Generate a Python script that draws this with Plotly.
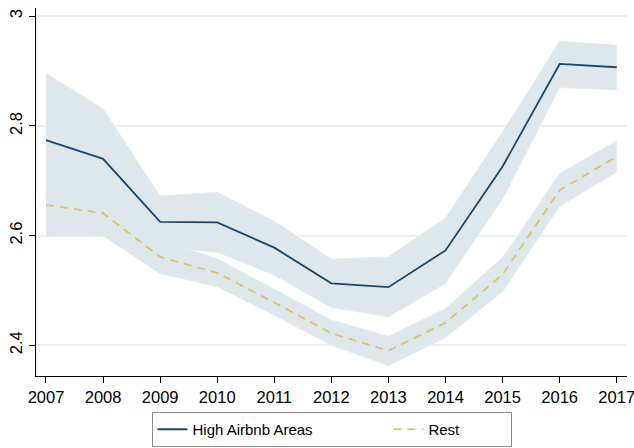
import plotly.graph_objects as go

years = list(range(2007, 2018))

high = [2.774, 2.740, 2.625, 2.624, 2.578, 2.513, 2.506, 2.573, 2.726, 2.913, 2.907]
high_upper = [2.896, 2.831, 2.672, 2.679, 2.626, 2.557, 2.561, 2.632, 2.789, 2.954, 2.947]
high_lower = [2.652, 2.649, 2.578, 2.570, 2.528, 2.469, 2.452, 2.513, 2.667, 2.870, 2.866]

rest = [2.656, 2.641, 2.561, 2.532, 2.478, 2.422, 2.390, 2.441, 2.529, 2.683, 2.744]
rest_upper = [2.714, 2.682, 2.592, 2.558, 2.502, 2.446, 2.416, 2.467, 2.560, 2.713, 2.773]
rest_lower = [2.598, 2.600, 2.531, 2.507, 2.455, 2.400, 2.363, 2.414, 2.498, 2.654, 2.716]

band_fill = "#dde7ec"
band_edge = "#e4ecf0"
navy = "#1a476f"
gold = "#e3c565"

fig = go.Figure()


def add_band(upper, lower):
    fig.add_trace(go.Scatter(x=years, y=upper, mode="lines",
                             line=dict(color=band_edge, width=1),
                             showlegend=False, hoverinfo="skip"))
    fig.add_trace(go.Scatter(x=years, y=lower, mode="lines",
                             line=dict(color=band_edge, width=1),
                             fill="tonexty", fillcolor=band_fill,
                             showlegend=False, hoverinfo="skip"))


add_band(high_upper, high_lower)
add_band(rest_upper, rest_lower)

pad = "\u00a0"
fig.add_trace(go.Scatter(x=years, y=high, mode="lines",
                         name="High Airbnb Areas" + pad * 17,
                         line=dict(color=navy, width=1.8)))
fig.add_trace(go.Scatter(x=years, y=rest, mode="lines", name="Rest" + pad * 11,
                         line=dict(color=gold, width=1.8, dash="8px,6px")))

font = dict(family="Liberation Sans, Arial, sans-serif", size=16.5, color="black")
legend_font = dict(family="Liberation Sans, Arial, sans-serif", size=15, color="black")

fig.update_layout(
    width=634, height=448,
    margin=dict(l=36, r=7, t=8, b=72),
    paper_bgcolor="white", plot_bgcolor="white",
    font=font,
    xaxis=dict(range=[2006.825, 2017.18], tickvals=years, showgrid=False,
               showline=True, linecolor="black", linewidth=1.3,
               ticks="outside", ticklen=6, tickcolor="black", zeroline=False,
               tickfont=font, ticklabeloverflow="allow", automargin=False),
    yaxis=dict(range=[2.344, 3.015], tickvals=[2.4, 2.6, 2.8, 3],
               ticktext=["2.4", "2.6", "2.8", "3"], tickangle=-90,
               showgrid=True, gridcolor="#eaf0f3", gridwidth=1.5,
               showline=True, linecolor="black", linewidth=1.3,
               ticks="outside", ticklen=6, tickcolor="black", zeroline=False,
               layer="above traces", tickfont=font, automargin=False),
    legend=dict(orientation="h", x=0.5, xanchor="center",
                yref="container", y=0.0804, yanchor="top",
                bordercolor="#8a8a8a", borderwidth=1, font=legend_font,
                traceorder="normal"),
    showlegend=True,
)

fig.write_html("out.html", config={"displayModeBar": False},
               post_script="document.body.style.margin='0px';")
